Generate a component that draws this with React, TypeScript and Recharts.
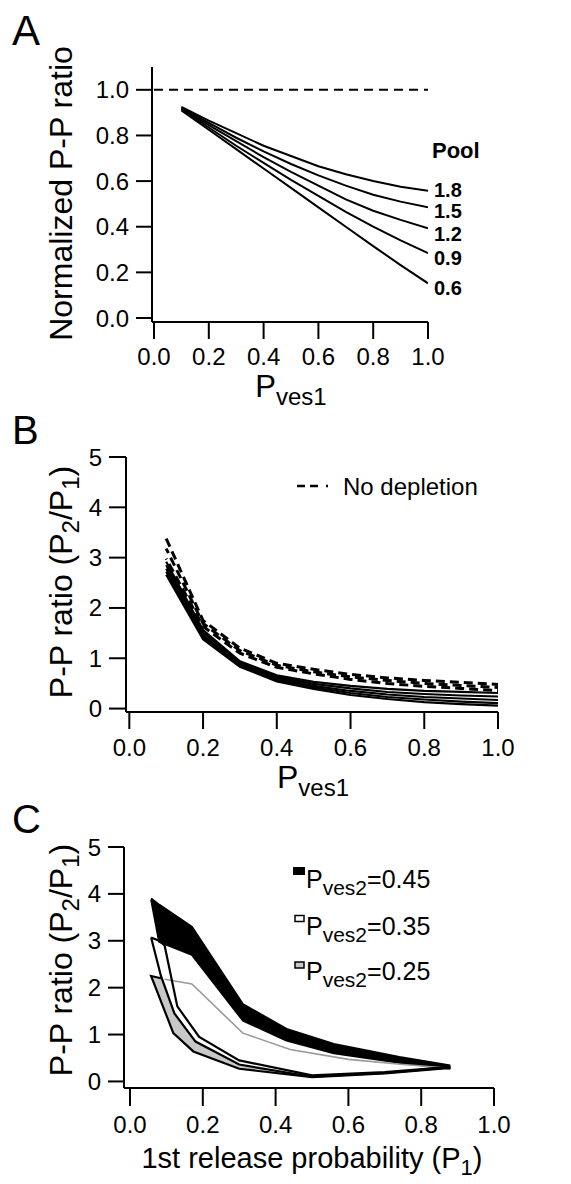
import React from 'react';
import { ComposedChart, Line, Area, XAxis, YAxis, LabelList } from 'recharts';

const FONT = '"Liberation Sans", Arial, Helvetica, sans-serif';

// ---------- Panel A ----------
const aX = [0.1, 0.2, 0.3, 0.4, 0.5, 0.6, 0.7, 0.8, 0.9, 1.0];
const aPool18 = [0.925, 0.865, 0.81, 0.755, 0.71, 0.665, 0.63, 0.6, 0.575, 0.558];
const aPool15 = [0.922, 0.855, 0.79, 0.73, 0.675, 0.625, 0.58, 0.54, 0.51, 0.485];
const aPool12 = [0.918, 0.845, 0.775, 0.705, 0.64, 0.58, 0.52, 0.47, 0.43, 0.393];
const aPool09 = [0.914, 0.835, 0.755, 0.68, 0.605, 0.535, 0.465, 0.4, 0.34, 0.284];
const aPool06 = [0.91, 0.825, 0.74, 0.655, 0.57, 0.485, 0.4, 0.315, 0.232, 0.152];
const aPoolNames = ['1.8', '1.5', '1.2', '0.9', '0.6'];
const aRefX = [0, 1];
const aRefY = [1, 1];
const aYTicks = [0, 0.2, 0.4, 0.6, 0.8, 1.0];

// ---------- Panel B ----------
const bX = [0.1, 0.2, 0.3, 0.4, 0.5, 0.6, 0.7, 0.8, 0.9, 1.0];
const bDep1 = [2.92, 1.56, 0.94, 0.66, 0.53, 0.45, 0.39, 0.35, 0.33, 0.31];
const bDep2 = [2.85, 1.51, 0.91, 0.63, 0.49, 0.4, 0.33, 0.29, 0.26, 0.24];
const bDep3 = [2.78, 1.46, 0.88, 0.6, 0.45, 0.35, 0.28, 0.23, 0.2, 0.17];
const bDep4 = [2.72, 1.42, 0.86, 0.57, 0.42, 0.31, 0.23, 0.18, 0.14, 0.11];
const bDep5 = [2.66, 1.38, 0.83, 0.54, 0.39, 0.27, 0.19, 0.13, 0.09, 0.06];
const bNoDep1 = [3.38, 1.75, 1.2, 0.9, 0.78, 0.68, 0.61, 0.56, 0.52, 0.48];
const bNoDep2 = [3.18, 1.69, 1.15, 0.86, 0.73, 0.63, 0.56, 0.5, 0.46, 0.42];
const bNoDep3 = [2.98, 1.63, 1.1, 0.82, 0.69, 0.58, 0.5, 0.44, 0.4, 0.36];
const bYTicks = [0, 1, 2, 3, 4, 5];

// ---------- Panel C ----------
const c45X = [0.058, 0.08, 0.17, 0.31, 0.43, 0.56, 0.74, 0.88];
const c45Lo = [3.88, 2.98, 2.7, 1.3, 0.87, 0.6, 0.4, 0.27];
const c45Hi = [3.9, 3.77, 3.3, 1.65, 1.12, 0.8, 0.52, 0.34];

const cGrayX = [0.058, 0.085, 0.122, 0.18, 0.3, 0.5];
const cGrayLo = [2.24, 1.71, 1.0, 0.62, 0.27, 0.09];
const cGrayHi = [2.25, 2.2, 1.45, 0.85, 0.36, 0.1];

const cOuterX = [0.085, 0.058, 0.119, 0.174, 0.3, 0.5, 0.7, 0.88];
const cOuterY = [2.2, 2.25, 1.03, 0.64, 0.27, 0.09, 0.17, 0.29];

const cW1X = [0.058, 0.085, 0.122, 0.18, 0.3, 0.5, 0.7, 0.88];
const cW1Y = [3.07, 2.25, 1.45, 0.85, 0.36, 0.1, 0.18, 0.3];

const cW2X = [0.058, 0.08, 0.095, 0.13, 0.19, 0.3, 0.5, 0.7, 0.88];
const cW2Y = [3.07, 3.0, 2.9, 1.6, 0.95, 0.45, 0.13, 0.2, 0.31];

const cThinX = [0.095, 0.17, 0.31, 0.44, 0.6, 0.75, 0.88];
const cThinY = [2.18, 2.08, 1.03, 0.68, 0.47, 0.36, 0.28];

const xTicks = [0, 0.2, 0.4, 0.6, 0.8, 1.0];

// ---------- helpers ----------
const pts = (xs: number[], ys: number[]) => xs.map((x, i) => ({ x, y: ys[i] }));
const band = (xs: number[], lo: number[], hi: number[]) => xs.map((x, i) => ({ x, band: [lo[i], hi[i]] }));
const f1 = (v: number) => v.toFixed(1);
const f0 = (v: number) => String(v);

const axisStroke = { stroke: '#000', strokeWidth: 2 };
const tickText = { fill: '#000', fontSize: 24, fontFamily: FONT };

const aData = aX.map((x, i) => ({
  x,
  p18: aPool18[i],
  p15: aPool15[i],
  p12: aPool12[i],
  p09: aPool09[i],
  p06: aPool06[i],
}));

const bData = bX.map((x, i) => ({
  x,
  s1: bDep1[i],
  s2: bDep2[i],
  s3: bDep3[i],
  s4: bDep4[i],
  s5: bDep5[i],
  n1: bNoDep1[i],
  n2: bNoDep2[i],
  n3: bNoDep3[i],
}));

const labelShift = [-1, 4, 6, 5, 5];
const endLabel = (name: string, shift: number) => (props: any) => {
  const { x, y, index } = props;
  if (index !== aX.length - 1) return null;
  return (
    <text
      x={x + 6}
      y={y + shift}
      dominantBaseline="central"
      fontFamily={FONT}
      fontWeight="bold"
      fontSize={20}
      fill="#000"
    >
      {name}
    </text>
  );
};

const lineCommon = {
  dot: false,
  activeDot: false,
  isAnimationActive: false,
  type: 'linear' as const,
  stroke: '#000',
};

function PanelA() {
  const keys = ['p18', 'p15', 'p12', 'p09', 'p06'];
  return (
    <ComposedChart
      width={571}
      height={400}
      data={aData}
      margin={{ top: 67, right: 143, bottom: 77, left: 151 }}
    >
      <XAxis
        type="number"
        dataKey="x"
        domain={[-0.0073, 1]}
        allowDataOverflow
        ticks={xTicks}
        tickFormatter={f1}
        interval={0}
        height={1}
        tickSize={17}
        tickMargin={9}
        axisLine={axisStroke}
        tickLine={axisStroke}
        tick={tickText}
      />
      <YAxis
        type="number"
        domain={[-0.0175, 1.1]}
        allowDataOverflow
        ticks={aYTicks}
        tickFormatter={f1}
        interval={0}
        width={1}
        tickSize={16}
        tickMargin={7}
        axisLine={axisStroke}
        tickLine={axisStroke}
        tick={tickText}
      />
      <Line
        {...lineCommon}
        data={pts(aRefX, aRefY)}
        dataKey="y"
        strokeWidth={2}
        strokeDasharray="9 6"
      />
      {keys.map((k, i) => (
        <Line key={k} {...lineCommon} dataKey={k} strokeWidth={2}>
          <LabelList dataKey={k} content={endLabel(aPoolNames[i], labelShift[i])} />
        </Line>
      ))}
    </ComposedChart>
  );
}

function PanelB() {
  const offsets = [0, 4, 8];
  return (
    <ComposedChart
      width={571}
      height={400}
      data={bData}
      margin={{ top: 57, right: 73, bottom: 87, left: 125 }}
    >
      <XAxis
        type="number"
        dataKey="x"
        domain={[-0.009, 1]}
        allowDataOverflow
        ticks={xTicks}
        tickFormatter={f1}
        interval={0}
        height={1}
        tickSize={17}
        tickMargin={10}
        axisLine={axisStroke}
        tickLine={axisStroke}
        tick={tickText}
      />
      <YAxis
        type="number"
        domain={[-0.068, 5]}
        allowDataOverflow
        ticks={bYTicks}
        tickFormatter={f0}
        interval={0}
        width={1}
        tickSize={17}
        tickMargin={7}
        axisLine={axisStroke}
        tickLine={axisStroke}
        tick={tickText}
      />
      {['n1', 'n2', 'n3'].map((k, i) => (
        <Line
          key={k}
          {...lineCommon}
          dataKey={k}
          strokeWidth={3}
          strokeDasharray="9 5"
          strokeDashoffset={offsets[i]}
        />
      ))}
      {['s1', 's2', 's3', 's4', 's5'].map((k) => (
        <Line key={k} {...lineCommon} dataKey={k} strokeWidth={2.2} />
      ))}
    </ComposedChart>
  );
}

function PanelC() {
  return (
    <ComposedChart
      width={571}
      height={384}
      margin={{ top: 47, right: 77, bottom: 95, left: 123 }}
    >
      <XAxis
        type="number"
        dataKey="x"
        domain={[-0.0165, 1]}
        allowDataOverflow
        ticks={xTicks}
        tickFormatter={f1}
        interval={0}
        height={1}
        tickSize={18}
        tickMargin={10}
        axisLine={axisStroke}
        tickLine={axisStroke}
        tick={tickText}
      />
      <YAxis
        type="number"
        domain={[-0.14, 5]}
        allowDataOverflow
        ticks={bYTicks}
        tickFormatter={f0}
        interval={0}
        width={1}
        tickSize={16}
        tickMargin={7}
        axisLine={axisStroke}
        tickLine={axisStroke}
        tick={tickText}
      />
      <Area
        data={band(cGrayX, cGrayLo, cGrayHi)}
        dataKey="band"
        type="linear"
        fill="#c8c8c8"
        fillOpacity={1}
        stroke="none"
        isAnimationActive={false}
        dot={false}
        activeDot={false}
      />
      <Line {...lineCommon} data={pts(cThinX, cThinY)} dataKey="y" stroke="#9a9a9a" strokeWidth={1.6} />
      <Line {...lineCommon} data={pts(cOuterX, cOuterY)} dataKey="y" strokeWidth={2.2} />
      <Line {...lineCommon} data={pts(cW1X, cW1Y)} dataKey="y" strokeWidth={2.2} />
      <Line {...lineCommon} data={pts(cW2X, cW2Y)} dataKey="y" strokeWidth={2.2} />
      <Area
        data={band(c45X, c45Lo, c45Hi)}
        dataKey="band"
        type="linear"
        fill="#000"
        fillOpacity={1}
        stroke="#000"
        strokeWidth={2}
        strokeLinejoin="round"
        isAnimationActive={false}
        dot={false}
        activeDot={false}
      />
    </ComposedChart>
  );
}

function Overlay() {
  const t = { fontFamily: FONT, fill: '#000' } as const;
  return (
    <svg
      width={571}
      height={1184}
      style={{ position: 'absolute', left: 0, top: 0, pointerEvents: 'none' }}
    >
      {/* Panel letters */}
      <text x={12} y={45} fontSize={42} {...t}>A</text>
      <text x={12} y={444} fontSize={40} {...t}>B</text>
      <text x={12} y={833} fontSize={40} {...t}>C</text>

      {/* Panel A titles */}
      <text transform="translate(72,193.5) rotate(-90)" textAnchor="middle" fontSize={32} {...t}>
        Normalized P-P ratio
      </text>
      <text x={291} y={397} textAnchor="middle" {...t}>
        <tspan fontSize={31}>P</tspan>
        <tspan fontSize={24} dy={8}>ves1</tspan>
      </text>
      <text x={432} y={158} fontSize={22} fontWeight="bold" {...t}>Pool</text>

      {/* Panel B titles */}
      <text transform="translate(72,582) rotate(-90)" textAnchor="middle" {...t}>
        <tspan fontSize={32}>P-P ratio (P</tspan>
        <tspan fontSize={24} dy={7}>2</tspan>
        <tspan fontSize={32} dy={-7}>/P</tspan>
        <tspan fontSize={24} dy={7}>1</tspan>
        <tspan fontSize={32} dy={-7}>)</tspan>
      </text>
      <text x={313} y={788} textAnchor="middle" {...t}>
        <tspan fontSize={32}>P</tspan>
        <tspan fontSize={24} dy={8}>ves1</tspan>
      </text>
      <line x1={297} y1={486} x2={323} y2={486} stroke="#000" strokeWidth={2.5} strokeDasharray="8 5" />
      <line x1={326} y1={486} x2={328} y2={486} stroke="#000" strokeWidth={2.5} />
      <text x={343} y={495} fontSize={24} {...t}>No depletion</text>

      {/* Panel C titles */}
      <text transform="translate(72,960) rotate(-90)" textAnchor="middle" {...t}>
        <tspan fontSize={32}>P-P ratio (P</tspan>
        <tspan fontSize={24} dy={7}>2</tspan>
        <tspan fontSize={32} dy={-7}>/P</tspan>
        <tspan fontSize={24} dy={7}>1</tspan>
        <tspan fontSize={32} dy={-7}>)</tspan>
      </text>
      <text x={312} y={1168} textAnchor="middle" {...t}>
        <tspan fontSize={29}>1st release probability (P</tspan>
        <tspan fontSize={22} dy={7}>1</tspan>
        <tspan fontSize={29} dy={-7}>)</tspan>
      </text>

      {/* Panel C legend */}
      <rect x={293} y={867} width={12} height={8} fill="#000" />
      <text x={306} y={888} {...t}>
        <tspan fontSize={25}>P</tspan>
        <tspan fontSize={21} dy={7}>ves2</tspan>
        <tspan fontSize={25} dy={-7}>=0.45</tspan>
      </text>
      <rect x={295} y={915.5} width={9} height={6} fill="#fff" stroke="#000" strokeWidth={1.5} />
      <text x={306} y={935} {...t}>
        <tspan fontSize={25}>P</tspan>
        <tspan fontSize={21} dy={7}>ves2</tspan>
        <tspan fontSize={25} dy={-7}>=0.35</tspan>
      </text>
      <rect x={295} y={962} width={9} height={6} fill="#c8c8c8" stroke="#000" strokeWidth={1.5} />
      <text x={306} y={980} {...t}>
        <tspan fontSize={25}>P</tspan>
        <tspan fontSize={21} dy={7}>ves2</tspan>
        <tspan fontSize={25} dy={-7}>=0.25</tspan>
      </text>
    </svg>
  );
}

export default function App() {
  return (
    <div
      style={{
        position: 'absolute',
        left: 0,
        top: 0,
        width: 571,
        height: 1184,
        background: '#fff',
        overflow: 'hidden',
      }}
    >
      <div style={{ position: 'absolute', left: 0, top: 0 }}>
        <PanelA />
      </div>
      <div style={{ position: 'absolute', left: 0, top: 400 }}>
        <PanelB />
      </div>
      <div style={{ position: 'absolute', left: 0, top: 800 }}>
        <PanelC />
      </div>
      <Overlay />
    </div>
  );
}
